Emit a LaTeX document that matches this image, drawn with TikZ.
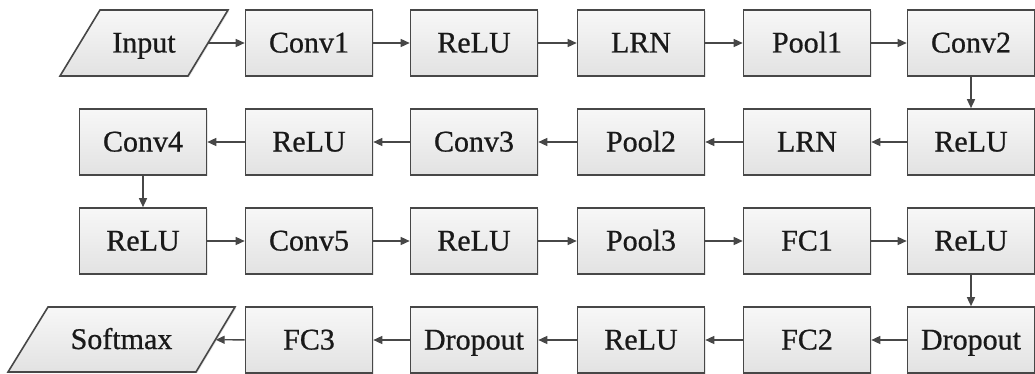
\documentclass[tikz,border=0pt]{standalone}
\usepackage{fontspec}
\setmainfont{Liberation Serif}
\newfontfamily\boxfont[FakeBold=0.7]{Liberation Serif}
\usetikzlibrary{arrows.meta,shadows}
\definecolor{edge}{HTML}{474747}
\definecolor{fillbot}{HTML}{E2E2E2}
\begin{document}
\begin{tikzpicture}[x=1pt,y=1pt,
  every node/.style={font=\boxfont\fontsize{30}{32}\selectfont, text=black!90, text height=22pt, text depth=3pt},
  skin/.style={draw=edge, line width=1.6pt, top color=white!97!black, bottom color=fillbot,
    drop shadow={shadow xshift=1.2pt, shadow yshift=-1.2pt, opacity=0.2}},
  layer/.style={skin, minimum width=127pt, minimum height=66pt, inner sep=0pt},
  iolabel/.style={minimum height=66pt, inner sep=0pt},
  flow/.style={draw=edge, line width=1.4pt, -{Triangle[length=9pt,width=8pt]}}
]
\useasboundingbox (0,0) rectangle (1035,373);
% input / output parallelograms
\draw[skin] (60,297) -- (188,297) -- (228,363) -- (100,363) -- cycle;
\node[iolabel, minimum width=128pt] (in) at (144,330) {Input};
\draw[skin] (8,1) -- (196,1) -- (235,66) -- (48,66) -- cycle;
\node[iolabel, minimum width=188pt] (sm) at (121.5,33.5) {Softmax};
% row 1
\node[layer] (c1) at (309,330) {Conv1};
\node[layer] (r1) at (474,330) {ReLU};
\node[layer] (l1) at (641,330) {LRN};
\node[layer] (p1) at (807,330) {Pool1};
\node[layer] (c2) at (971,330) {Conv2};
% row 2
\node[layer] (r2) at (971,231) {ReLU};
\node[layer] (l2) at (807,231) {LRN};
\node[layer] (p2) at (641,231) {Pool2};
\node[layer] (c3) at (474,231) {Conv3};
\node[layer] (r3) at (309,231) {ReLU};
\node[layer] (c4) at (143,231) {Conv4};
% row 3
\node[layer] (r4) at (143,132) {ReLU};
\node[layer] (c5) at (309,132) {Conv5};
\node[layer] (r5) at (474,132) {ReLU};
\node[layer] (p3) at (641,132) {Pool3};
\node[layer] (f1) at (807,132) {FC1};
\node[layer] (r6) at (971,132) {ReLU};
% row 4
\node[layer] (d1) at (971,33) {Dropout};
\node[layer] (f2) at (807,33) {FC2};
\node[layer] (r7) at (641,33) {ReLU};
\node[layer] (d2) at (474,33) {Dropout};
\node[layer] (f3) at (309,33) {FC3};
% connectors
\draw[flow] (in) -- (c1);
\draw[flow] (c1) -- (r1);
\draw[flow] (r1) -- (l1);
\draw[flow] (l1) -- (p1);
\draw[flow] (p1) -- (c2);
\draw[flow] (c2) -- (r2);
\draw[flow] (r2) -- (l2);
\draw[flow] (l2) -- (p2);
\draw[flow] (p2) -- (c3);
\draw[flow] (c3) -- (r3);
\draw[flow] (r3) -- (c4);
\draw[flow] (c4) -- (r4);
\draw[flow] (r4) -- (c5);
\draw[flow] (c5) -- (r5);
\draw[flow] (r5) -- (p3);
\draw[flow] (p3) -- (f1);
\draw[flow] (f1) -- (r6);
\draw[flow] (r6) -- (d1);
\draw[flow] (d1) -- (f2);
\draw[flow] (f2) -- (r7);
\draw[flow] (r7) -- (d2);
\draw[flow] (d2) -- (f3);
\draw[flow] (f3) -- (sm);
\end{tikzpicture}
\end{document}
